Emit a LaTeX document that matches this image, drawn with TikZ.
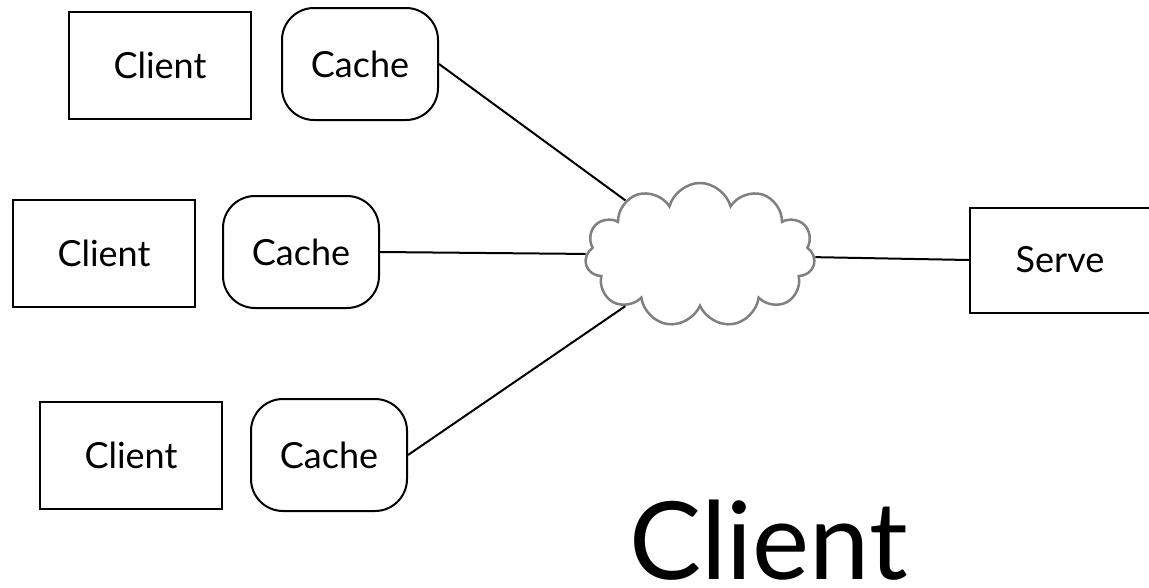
\documentclass[tikz,border=0pt]{standalone}
\usepackage{fontspec}
\setmainfont{Lato}
\usetikzlibrary{shapes.symbols}
\begin{document}
\begin{tikzpicture}[x=1pt, y=-1pt, line width=2pt,
		client/.style={draw, minimum width=182pt, minimum height=107pt, font=\fontsize{36}{42}\selectfont},
		cache/.style={draw, minimum width=156pt, minimum height=112pt, rounded corners=32pt, font=\fontsize{36}{42}\selectfont}]
		\useasboundingbox (0, 0) rectangle (1149, 587);
		\node[client] (client1) at (160, 65) {Client};
		\node[cache] (cache1) at (360, 64) {Cache};
		\node[client] (client2) at (104, 253) {Client};
		\node[cache] (cache2) at (301, 252) {Cache};
		\node[client] (client3) at (131, 455) {Client};
		\node[cache] (cache3) at (329, 455) {Cache};
		\node[cloud, draw=gray, line width=2.5pt, cloud puffs=11, cloud ignores aspect, minimum width=230pt, minimum height=144pt] (net) at (700, 255) {};
		\node[client, minimum width=180pt, minimum height=105pt] (server) at (1060, 260) {Serve};
		\node[anchor=base west, inner sep=0pt, font=\fontsize{108}{120}\selectfont] (title) at (628, 579) {Client};
		\draw[-] (cache1.east) -- (net);
		\draw[-] (cache2.east) -- (net);
		\draw[-] (cache3.east) -- (net);
		\draw[-] (net) -- (server.west);
	\end{tikzpicture}
\end{document}
